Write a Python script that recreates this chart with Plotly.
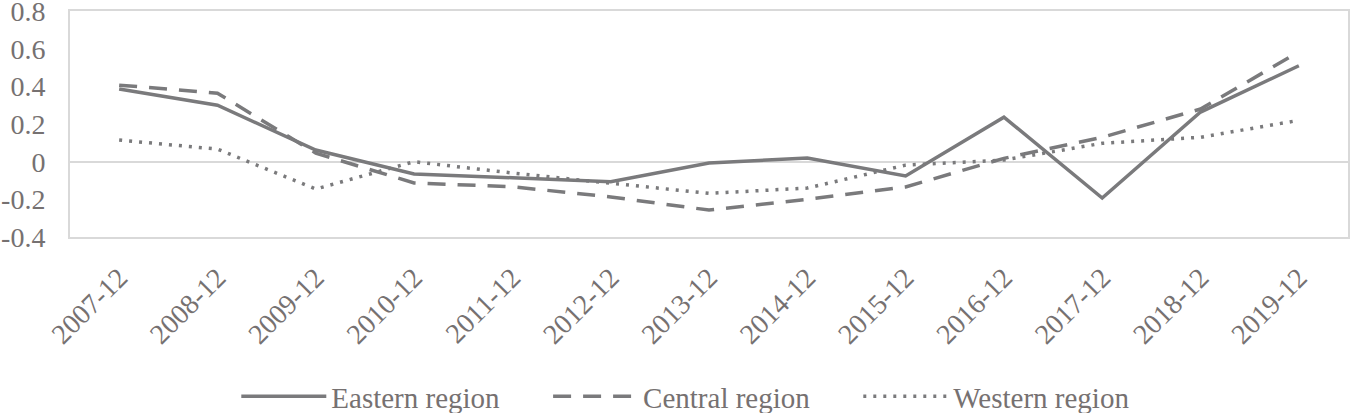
import plotly.graph_objects as go

categories = ["2007-12", "2008-12", "2009-12", "2010-12", "2011-12", "2012-12", "2013-12",
              "2014-12", "2015-12", "2016-12", "2017-12", "2018-12", "2019-12"]
eastern = [0.386, 0.30, 0.062, -0.065, -0.085, -0.106, -0.007, 0.02, -0.076, 0.237, -0.193, 0.264, 0.51]
central = [0.407, 0.364, 0.046, -0.113, -0.133, -0.187, -0.257, -0.2, -0.134, 0.018, 0.13, 0.28, 0.584]
western = [0.115, 0.067, -0.145, 0.0, -0.06, -0.113, -0.168, -0.14, -0.018, 0.009, 0.098, 0.13, 0.22]
series_names = ["Eastern region", "Central region", "Western region"]
y_ticks = [-0.4, -0.2, 0, 0.2, 0.4, 0.6, 0.8]
y_tick_text = ["-0.4", "-0.2", "0", "0.2", "0.4", "0.6", "0.8"]

line_color = "#7a7a7c"
text_color = "#767171"
font_family = "Liberation Serif, Times New Roman, serif"
pad = "\u00a0" * 6  # spacing between legend entries

fig = go.Figure()
fig.add_trace(go.Scatter(x=categories, y=eastern, name=series_names[0] + pad, mode="lines",
                         line=dict(color=line_color, width=3.5)))
fig.add_trace(go.Scatter(x=categories, y=central, name=series_names[1] + pad, mode="lines",
                         line=dict(color=line_color, width=3.5, dash="18px,12px")))
fig.add_trace(go.Scatter(x=categories, y=western, name=series_names[2], mode="lines",
                         line=dict(color=line_color, width=3.5, dash="3px,7px")))

fig.update_layout(
    width=1350, height=413,
    margin=dict(l=70, r=2, t=11, b=176),
    paper_bgcolor="white", plot_bgcolor="white",
    font=dict(family=font_family, color=text_color, size=28),
    showlegend=True,
    legend=dict(orientation="h", xref="container", yref="container",
                x=0.508, xanchor="center", y=0.04, yanchor="middle",
                font=dict(size=29, color=text_color), itemwidth=85, traceorder="normal"),
)
fig.update_xaxes(type="category", range=[-0.5, 12.5], tickangle=-45, showgrid=False, zeroline=False,
                 showline=True, mirror=True, linecolor="#d9d9d9", linewidth=2, automargin=False,
                 tickfont=dict(size=28, color=text_color), ticks="", ticklabelstandoff=11)
fig.update_yaxes(range=[-0.4, 0.801], tickvals=y_ticks, ticktext=y_tick_text, showgrid=False,
                 zeroline=True, zerolinecolor="#d9d9d9", zerolinewidth=2, automargin=False,
                 showline=True, mirror=True, linecolor="#d9d9d9", linewidth=2,
                 ticklabeloverflow="allow",
                 tickfont=dict(size=28, color=text_color), ticks="", ticklabelstandoff=17)

fig.write_html("out.html", config={"displayModeBar": False},
               post_script="document.body.style.margin='0px';")
